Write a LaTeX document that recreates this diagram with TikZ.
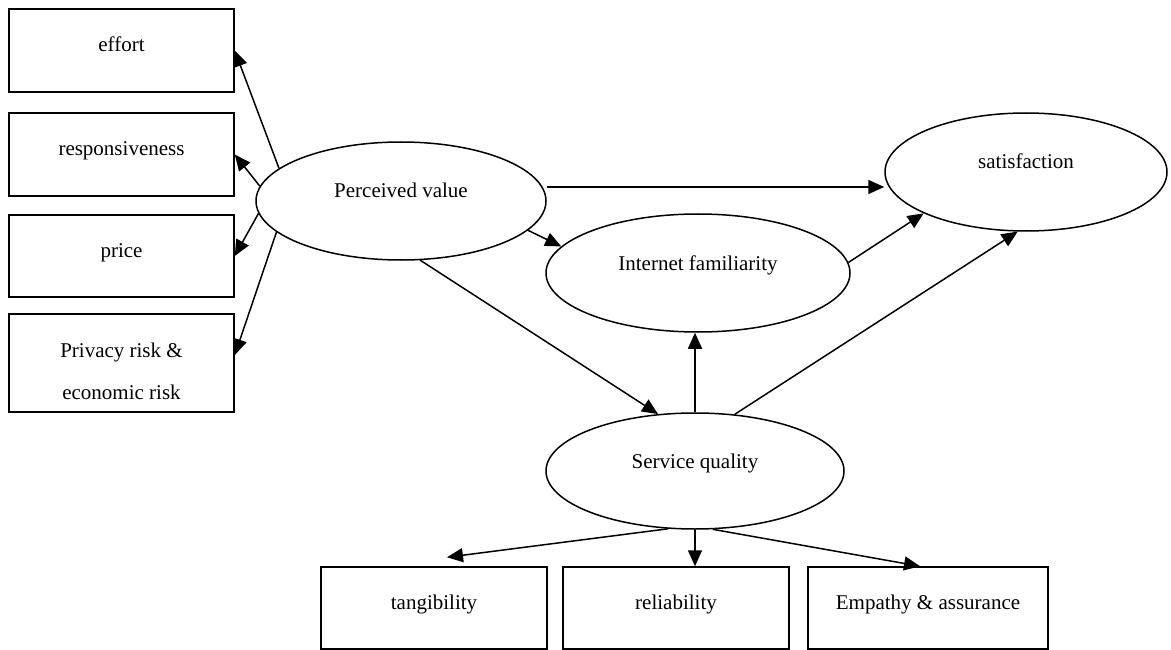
\documentclass[tikz,border=0pt]{standalone}
\usepackage{fontspec}
\setmainfont{Liberation Serif}
\usetikzlibrary{arrows.meta, shapes.geometric, positioning}

\begin{document}
\begin{tikzpicture}[x=1pt, y=-1pt, on grid, line width=1.5pt, >={Triangle[length=16pt, width=14pt]},
  every node/.style={font=\fontsize{21pt}{42pt}\selectfont},
  box/.style={rectangle, draw, inner sep=0pt, minimum width=225pt, minimum height=83pt, text height=14pt, text depth=12pt, align=center},
  oval/.style={ellipse, draw, inner sep=0pt, minimum height=118pt, text height=14pt, text depth=20pt}]

        \useasboundingbox (0,0) rectangle (1171,650);

        % left column
        \node[box] (effort) at (121.5,50.5) {effort};
        \node[box, below=104pt of effort] (resp) {responsiveness};
        \node[box, minimum height=82pt, below=101.5pt of resp] (price) {price};
        \node[box, minimum height=98pt, text height=72pt, text depth=0pt, below=107pt of price] (risk) {Privacy risk \&\\economic risk};

        % constructs
        \node[oval, minimum width=290pt] (PV) at (401,201) {Perceived value};
        \node[oval, minimum width=304pt] (IF) at (698,273) {Internet familiarity};
        \node[oval, minimum width=282pt] (SAT) at (1026,172) {satisfaction};
        \node[oval, minimum width=298pt, minimum height=116pt] (SQ) at (695,471) {Service quality};

        % bottom row
        \node[box, minimum width=226pt, minimum height=82pt] (tang) at (434,608) {tangibility};
        \node[box, minimum width=226pt, minimum height=82pt, right=242pt of tang] (rel) {reliability};
        \node[box, minimum width=240pt, minimum height=82pt, right=252pt of rel] (emp) {Empathy \& assurance};

        \path[->]
        (PV.165) edge (effort.east)
        (PV.174.5) edge (resp.east)
        (PV.-175.3) edge (price.east)
        (PV.194.6) edge (risk.4)
        ([yshift=14pt]PV.east) edge ([yshift=-15pt]SAT.west)
        (PV.-13.8) edge (IF.169)
        (PV.-72) edge (SQ.123.7)
        (IF.4.8) edge (SAT.202.3)
        (SQ.north) edge (SQ.north |- IF.south)
        (SQ.55.4) edge (SAT.-98.5)
        (SQ.245.4) edge ([shift={(13,-9)}]tang.north)
        (SQ.south) edge (SQ.south |- rel.north)
        (SQ.-73) edge ([xshift=-8pt]emp.north)
        ;

    \end{tikzpicture}
\end{document}
